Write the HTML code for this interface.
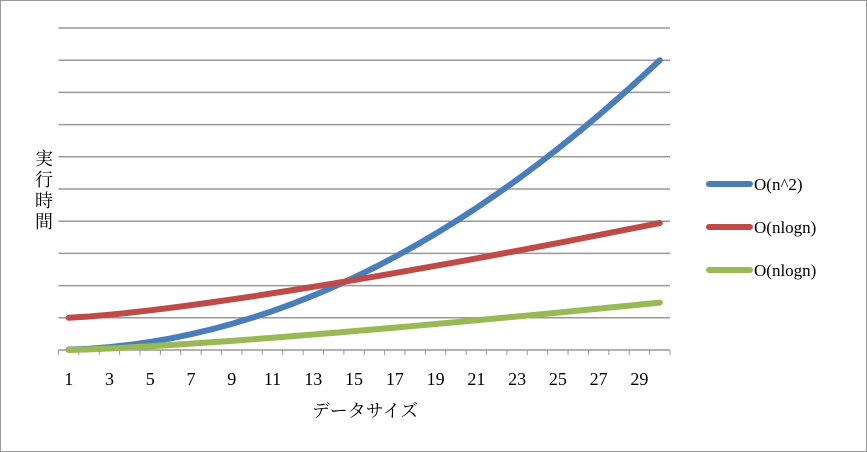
<!DOCTYPE html>
<html><head><meta charset="utf-8"><style>
html,body{margin:0;padding:0;background:#fff}
svg{display:block}
text{font-family:"Liberation Serif","Noto Serif CJK SC",serif;fill:#000}
</style></head><body>
<svg id="chart" width="867" height="452" xmlns="http://www.w3.org/2000/svg">
<rect x="0.5" y="0.5" width="866" height="451" fill="#fff" stroke="#999"/>
<g id="grid"></g><g id="axis"></g><g id="series"></g>
<text x="44" font-size="18" text-anchor="middle" font-family="Liberation Sans, Noto Sans CJK JP, sans-serif"><tspan x="44" y="165">実</tspan><tspan x="44" y="186">行</tspan><tspan x="44" y="207">時</tspan><tspan x="44" y="228">間</tspan></text>
<text x="365" y="417" font-size="18" text-anchor="middle">データサイズ</text>
<g id="legend"></g>
</svg>
<script>
const categories = [1,2,3,4,5,6,7,8,9,10,11,12,13,14,15,16,17,18,19,20,21,22,23,24,25,26,27,28,29,30];
const seriesN2 = [1,4,9,16,25,36,49,64,81,100,121,144,169,196,225,256,289,324,361,400,441,484,529,576,625,676,729,784,841,900];
const seriesNlogn = [100,104,109.5,116,123.2,131,139.3,148,157,166.4,176.2,186,196.2,206.6,217.2,228,239,250.2,261.4,272.8,284.4,296.2,308,320,332.2,344.4,356.8,369.2,381.8,394.4];
const seriesNlogn2 = [0,2,4.75,8,11.6,15.5,19.7,24,28.5,33.2,38.1,43,48.1,53.3,58.6,64,69.5,75.1,80.7,86.4,92.2,98.1,104,110,116.1,122.2,128.4,134.6,140.9,147.2];
const yTicks = [0,100,200,300,400,500,600,700,800,900,1000];
const seriesNames = ["O(n^2)","O(nlogn)","O(nlogn)"];

const NS="http://www.w3.org/2000/svg";
const L=58.5,R=670,T=28,B=350,yMax=1000;
const cw=(R-L)/categories.length;
const x=i=>L+(i+0.5)*cw;
const y=v=>B-(v/yMax)*(B-T);
function mk(tag,attrs,parent){const e=document.createElementNS(NS,tag);for(const k in attrs)e.setAttribute(k,attrs[k]);parent.appendChild(e);return e;}
const grid=document.getElementById('grid'),axis=document.getElementById('axis'),ser=document.getElementById('series'),leg=document.getElementById('legend');
yTicks.forEach(t=>{if(t===0)return;
  const g=mk('line',{x1:L,x2:R,y1:y(t),y2:y(t),stroke:'#999','stroke-width':1.5},grid);
  
  
});
const ax=mk('line',{x1:L,x2:R,y1:B,y2:B,stroke:'#999','stroke-width':1.5},axis);


for(let i=0;i<=categories.length;i++){
  const tk=mk('line',{x1:L+i*cw,x2:L+i*cw,y1:B,y2:B+5,stroke:'#999','stroke-width':1},axis);
  
  
}
categories.forEach((c,i)=>{if(c%2===0)return;
  const t=mk('text',{x:x(i),y:385,'font-size':18,'text-anchor':'middle'},axis);
  t.textContent=c;
  
  
});
const colors=['#4a7ebb','#be4b48','#98b954'];
[seriesN2,seriesNlogn,seriesNlogn2].forEach((s,k)=>{
  const p=mk('polyline',{points:s.map((v,i)=>x(i)+','+y(v)).join(' '),fill:'none',stroke:colors[k],'stroke-width':6,'stroke-linecap':'round','stroke-linejoin':'round'},ser);
  
  
  const ly=184+k*43;
  const ll=mk('line',{x1:709,x2:750,y1:ly,y2:ly,stroke:colors[k],'stroke-width':6,'stroke-linecap':'round'},leg);
  
  
  const lt=mk('text',{x:754,y:ly+6,'font-size':17},leg);
  lt.textContent=seriesNames[k];
  
  
});
</script>
</body></html>
